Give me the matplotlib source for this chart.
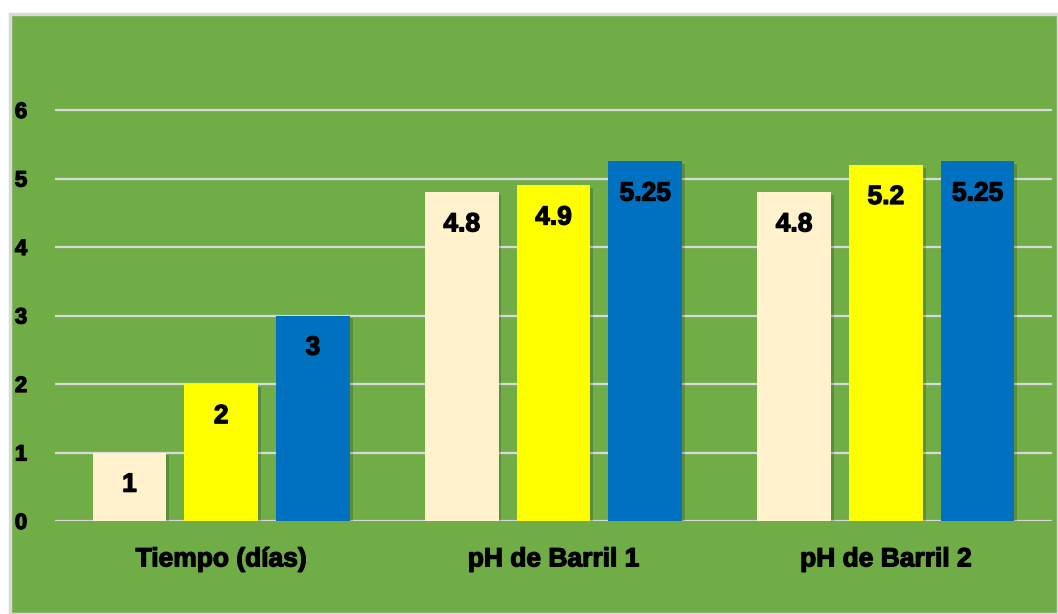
import matplotlib
matplotlib.use("Agg")
import matplotlib.pyplot as plt
import matplotlib.patches as mpatches
import matplotlib.patheffects as pe
import numpy as np

# ── Data ──────────────────────────────────────────────────────────────────────
categories = ["Tiempo (días)", "pH de Barril 1", "pH de Barril 2"]
serie_1 = [1, 4.8, 4.8]
serie_2 = [2, 4.9, 5.2]
serie_3 = [3, 5.25, 5.25]
yticks = [0, 1, 2, 3, 4, 5, 6]

# ── Style ─────────────────────────────────────────────────────────────────────
GREEN = "#70AD47"
BAR_COLORS = ["#FFF2CC", "#FFFF00", "#0070C0"]
plt.rcParams["font.family"] = ["Liberation Sans", "DejaVu Sans"]

W, H = 1058, 614
fig = plt.figure(figsize=(W / 100, H / 100), dpi=100, facecolor="white")

# green chart area with light grey frame
bg = mpatches.Rectangle((10 / W, 0), 1 - 10 / W, 1 - 14 / H, transform=fig.transFigure,
                        facecolor=GREEN, edgecolor="#D9D9D9", linewidth=2.5, zorder=-10)
fig.patches.append(bg)

ax_bottom = (H - 521) / H
ax_top_px = 521 - 6.5 * 68.5
ax = fig.add_axes([55 / W, ax_bottom, (1052 - 55) / W, (521 - ax_top_px) / H])
ax.set_facecolor("none")
ax.set_zorder(1)

x = np.arange(len(categories))
width = 0.222
offset = 0.276
shadow = [pe.SimplePatchShadow(offset=(2, -2), shadow_rgbFace="black", alpha=0.18), pe.Normal()]
heavy = [pe.withStroke(linewidth=0.9, foreground="black")]  # thicker strokes, like the original

for i, (vals, col) in enumerate(zip([serie_1, serie_2, serie_3], BAR_COLORS)):
    bars = ax.bar(x + (i - 1) * offset, vals, width, color=col, zorder=3)
    for b in bars:
        b.set_path_effects(shadow)
    for xi, v in zip(x + (i - 1) * offset, vals):
        ax.text(xi, v - 0.47, f"{v:g}", ha="center", va="center",
                fontsize=19, fontweight="bold", color="black", zorder=4,
                path_effects=heavy)

ax.set_xlim(-0.5, 2.5)
ax.set_ylim(0, 6.5)
ax.set_yticks(yticks)
ax.yaxis.grid(True, color="#D9D9D9", linewidth=1.6, zorder=1)
ax.set_axisbelow(True)
for s in ax.spines.values():
    s.set_visible(False)
ax.tick_params(axis="both", length=0)
ax.tick_params(axis="y", pad=20, labelsize=16)
ax.set_xticks(x)
ax.set_xticklabels(categories, fontsize=19, fontweight="bold")
ax.tick_params(axis="x", pad=19)
for lbl in ax.get_yticklabels() + ax.get_xticklabels():
    lbl.set_fontweight("bold")
    lbl.set_path_effects(heavy)

fig.savefig("out.png", dpi=100, facecolor="white")
